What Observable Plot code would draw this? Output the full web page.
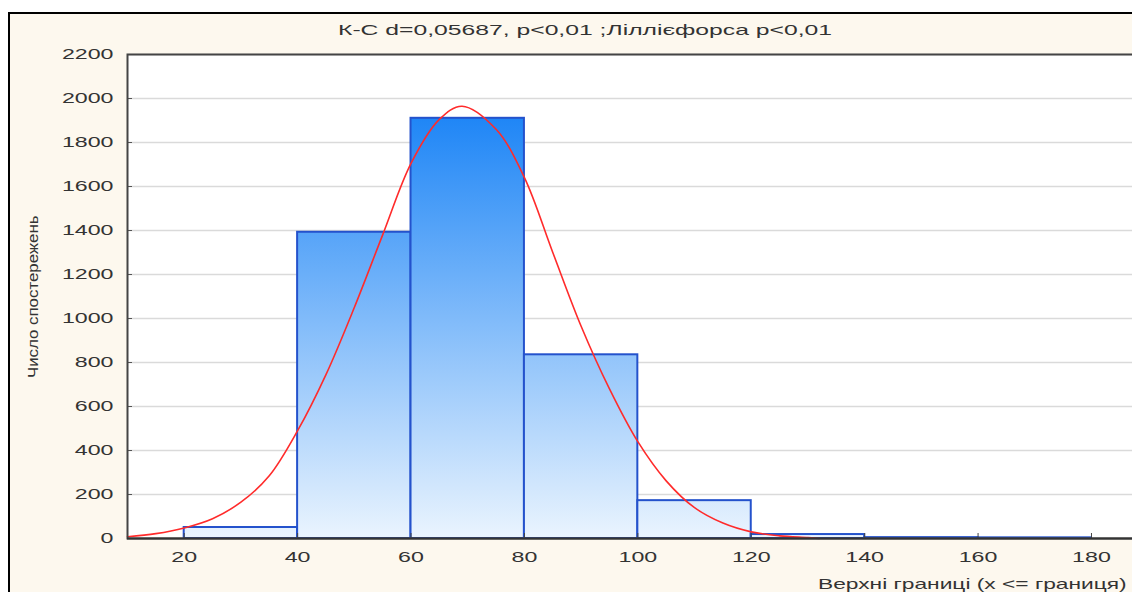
<!DOCTYPE html>
<html><head><meta charset="utf-8">
<script src="https://cdn.jsdelivr.net/npm/d3@7"></script>
<script src="https://cdn.jsdelivr.net/npm/@observablehq/plot@0.6"></script>
<style>
html,body{margin:0;padding:0;background:#fff;overflow:hidden;}
#wrap{position:relative;width:1132px;height:592px;overflow:hidden;font-family:"Liberation Sans",Arial,sans-serif;color:#333;}
#panel{position:absolute;left:8px;top:12px;width:1200px;height:700px;border-left:2px solid #000;border-top:2px solid #000;background:#fdf8ee;}
#chart{position:absolute;left:0;top:0;width:1180px;height:592px;}
#chart svg{max-width:none !important;width:1180px !important;height:592px !important;}
.lbl{position:absolute;white-space:nowrap;font-size:14.5px;line-height:1;color:#333;}
#ylab{font-size:15.5px;}
</style></head><body>
<div id="wrap"><div id="panel"></div><div id="chart"></div>
<div id="title" class="lbl">К-С d=0,05687, p&lt;0,01 ;Ліллієфорса p&lt;0,01</div>
<div id="ylab" class="lbl">Число спостережень</div>
<div id="xlab" class="lbl">Верхні границі (x &lt;= границя)</div>
</div>
<script>
// histogram bins
const binLower = [20, 40, 60, 80, 100, 120, 140, 160];
const binUpper = [40, 60, 80, 100, 120, 140, 160, 180];
const counts   = [50, 1392, 1910, 835, 172, 18, 4, 3];
// fitted normal curve
const curveX = [10,15,20,25,30,35,40,45,50,55,60,65,69,75,80,85,90,95,100,105,110,115,120,125,130,132];
const curveY = [8,22,48,90,165,285,490,745,1050,1380,1705,1905,1965,1860,1640,1300,965,680,440,262,140,70,30,12,4,0];
// ticks
const yTicks = [0,200,400,600,800,1000,1200,1400,1600,1800,2000,2200];
const xTicks = [20,40,60,80,100,120,140,160,180];

const bars = binLower.map((lo, i) => ({lo, hi: binUpper[i], n: counts[i]}));
const curve = curveX.map((x, i) => ({x, y: curveY[i]}));

const plot = Plot.plot({
  width: 1180, height: 592,
  marginLeft: 127, marginRight: 0, marginTop: 54, marginBottom: 54,
  x: {domain: [10, 195.7]},
  y: {domain: [0, 2200]},
  style: {fontFamily: '"Liberation Sans", Arial, sans-serif', fontSize: "14.5px", color: "#333", background: "transparent", overflow: "visible", maxWidth: "none"},
  marks: [
    Plot.frame({fill: "#fff", stroke: "none"}),
    Plot.gridY(yTicks, {stroke: "#dadada", strokeOpacity: 1, strokeWidth: 1.5}),
    Plot.rectY(bars, {x1: "lo", x2: "hi", y: "n", fill: "url(#barGrad)", stroke: "#2452cc", strokeWidth: 2}),
    Plot.line(curve, {x: "x", y: "y", stroke: "#ff2b2b", strokeWidth: 1.6, curve: "catmull-rom"}),
    Plot.axisY(yTicks, {tickSize: 0, tickPadding: 14, fill: "#333", label: null, tickFormat: d => String(d)}),
    Plot.axisY(yTicks, {tickSize: 5, dx: 5, fill: "none", stroke: "#555", label: null}),
    Plot.axisX(xTicks, {tickSize: 0, tickPadding: 13, fill: "#333", label: null, tickFormat: d => String(d)}),
    Plot.axisX(xTicks, {tickSize: 5, dy: -5, fill: "none", stroke: "#444", label: null}),
    Plot.frame({stroke: "#444", strokeWidth: 2}),
    Plot.ruleY([0], {stroke: "#333", strokeWidth: 2})
  ]
});

const yS = plot.scale("y");
const yTop = yS.apply(d3.max(counts)), yBot = yS.apply(0);
const ns = "http://www.w3.org/2000/svg";
const defs = document.createElementNS(ns, "defs");
defs.innerHTML = `<linearGradient id="barGrad" gradientUnits="userSpaceOnUse" x1="0" y1="${yTop}" x2="0" y2="${yBot}"><stop offset="0" stop-color="#1f86f6"/><stop offset="1" stop-color="#eaf4fe"/></linearGradient>`;
plot.insertBefore(defs, plot.firstChild);
document.getElementById("chart").appendChild(plot);

// horizontal stretch of the screenshot text
const K = 1.6;
plot.querySelectorAll("text").forEach(t => {
  const w = t.getComputedTextLength();
  if (w > 0) { t.setAttribute("textLength", w * K); t.setAttribute("lengthAdjust", "spacingAndGlyphs"); }
});

const title = document.getElementById("title");
title.style.transformOrigin = "center center";
title.style.transform = `scaleX(${494 / title.offsetWidth})`;
title.style.left = (585 - title.offsetWidth / 2) + "px";
title.style.top = (30 - title.offsetHeight / 2) + "px";

const xlab = document.getElementById("xlab");
xlab.style.transformOrigin = "left center";
xlab.style.transform = `scaleX(${Math.min(K, (1127 - 818) / xlab.offsetWidth)})`;
xlab.style.left = "818px";
xlab.style.top = (584 - xlab.offsetHeight / 2) + "px";

const ylab = document.getElementById("ylab");
const yw = ylab.offsetWidth, yh = ylab.offsetHeight;
ylab.style.transformOrigin = "center center";
ylab.style.transform = `rotate(-90deg) scaleX(${163 / yw})`;
ylab.style.left = (33 - yw / 2) + "px";
ylab.style.top = (297 - yh / 2) + "px";
</script>
</body></html>
